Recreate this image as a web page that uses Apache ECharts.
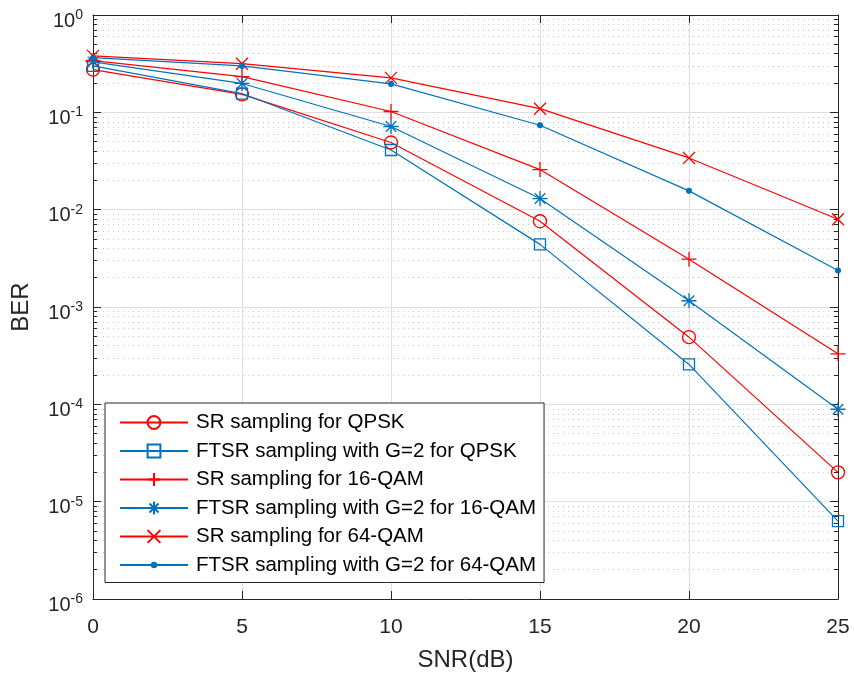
<!DOCTYPE html>
<html><head><meta charset="utf-8">
<script src="https://cdn.jsdelivr.net/npm/echarts@6/dist/echarts.min.js"></script>
<style>html,body{margin:0;padding:0;background:#fff}#c{width:854px;height:677px}</style>
</head><body><div id="c"></div>
<script>
// ---- data ----
const snr = [0, 5, 10, 15, 20, 25];
const srQPSK   = [0.275, 0.153, 0.049, 0.0076, 4.9e-4, 2.0e-5];
const ftsrQPSK = [0.30, 0.156, 0.041, 0.0044, 2.57e-4, 6.3e-6];
const sr16     = [0.34, 0.233, 0.102, 0.0258, 3.1e-3, 3.3e-4];
const ftsr16   = [0.33, 0.198, 0.0715, 0.013, 1.16e-3, 8.9e-5];
const sr64     = [0.38, 0.316, 0.226, 0.109, 0.034, 7.96e-3];
const ftsr64   = [0.364, 0.30, 0.196, 0.0737, 0.0156, 2.37e-3];
const seriesNames = [
  'SR sampling for QPSK',
  'FTSR sampling with G=2 for QPSK',
  'SR sampling for 16-QAM',
  'FTSR sampling with G=2 for 16-QAM',
  'SR sampling for 64-QAM',
  'FTSR sampling with G=2 for 64-QAM'
];
const xName = 'SNR(dB)';
const yName = 'BER';

// ---- styling ----
const RED = '#ff0000', BLUE = '#0072bd', AX = '#262626';
const FONT = '"Liberation Sans", Arial, Helvetica, sans-serif';
const PLUS = 'path://M0 -10 L0 10 M-10 0 L10 0';
const CROSS = 'path://M-10 -10 L10 10 M-10 10 L10 -10';
const STAR = 'path://M0 -10 L0 10 M-10 0 L10 0 M-7 -7 L7 7 M-7 7 L7 -7';
const DOT = 'path://M-7 -7 M7 7 M-2.4 0 A2.4 2.4 0 1 0 2.4 0 A2.4 2.4 0 1 0 -2.4 0 Z';

const seriesSpec = [
  {data: srQPSK,   color: RED,  symbol: 'circle', size: 13, fill: 'rgba(0,0,0,0)'},
  {data: ftsrQPSK, color: BLUE, symbol: 'rect',   size: 11, fill: 'rgba(0,0,0,0)'},
  {data: sr16,     color: RED,  symbol: PLUS,     size: 15, fill: 'rgba(0,0,0,0)'},
  {data: ftsr16,   color: BLUE, symbol: STAR,     size: 15, fill: 'rgba(0,0,0,0)'},
  {data: sr64,     color: RED,  symbol: CROSS,    size: 12, fill: 'rgba(0,0,0,0)'},
  {data: ftsr64,   color: BLUE, symbol: DOT,      size: 14, fill: BLUE}
];

const series = seriesSpec.map((s, i) => ({
  type: 'line',
  name: seriesNames[i],
  data: snr.map((x, j) => [x, s.data[j]]),
  xAxisIndex: 0, yAxisIndex: 0,
  symbol: s.symbol,
  symbolSize: s.size,
  showAllSymbol: true,
  clip: false,
  lineStyle: {color: s.color, width: 1.2},
  itemStyle: {color: s.fill, borderColor: s.color, borderWidth: 1.3},
  emphasis: {disabled: true},
  z: 10 + i
}));

const axisLine = {show: true, onZero: false, lineStyle: {color: AX, width: 1}};
const yLabelFmt = v => '{b|10}{s|' + Math.round(Math.log10(v)) + '}';

const option = {
  animation: false,
  backgroundColor: '#fff',
  grid: {left: 93, right: 16, top: 15, bottom: 74, containLabel: false},
  legend: {
    orient: 'vertical', left: 105, top: 403,
    padding: [9, 8, 7, 14],
    itemWidth: 68, itemHeight: 16, itemGap: 7.5,
    borderColor: AX, borderWidth: 1, borderRadius: 0, backgroundColor: '#fff',
    textStyle: {fontSize: 20.5, lineHeight: 20, color: '#000', fontFamily: FONT, padding: [0, 0, 0, 3]},
    data: seriesNames,
    z: 50
  },
  xAxis: [
    {
      type: 'value', min: 0, max: 25, interval: 5, position: 'bottom',
      axisLine: axisLine,
      axisTick: {show: true, inside: true, length: 8, lineStyle: {color: AX}},
      axisLabel: {fontSize: 21, color: AX, fontFamily: FONT, margin: 18},
      splitLine: {show: true, lineStyle: {color: '#dfdfdf', width: 1}},
      name: xName, nameLocation: 'middle', nameGap: 49,
      nameTextStyle: {fontSize: 24, color: AX, fontFamily: FONT}
    },
    {
      type: 'value', min: 0, max: 25, interval: 5, position: 'top',
      axisLine: axisLine,
      axisTick: {show: true, inside: true, length: 8, lineStyle: {color: AX}},
      axisLabel: {show: false},
      splitLine: {show: false}
    }
  ],
  yAxis: [
    {
      type: 'log', logBase: 10, min: 1e-6, max: 1, splitNumber: 6, position: 'left',
      axisLine: axisLine,
      axisTick: {show: true, inside: true, length: 8, lineStyle: {color: AX}},
      minorTick: {show: true, splitNumber: 9, length: 4, lineStyle: {color: AX}},
      axisLabel: {
        formatter: yLabelFmt, margin: 10, color: AX, fontFamily: FONT,
        rich: {
          b: {fontSize: 20, color: AX, fontFamily: FONT, padding: [12, 0, 0, 0]},
          s: {fontSize: 14, color: AX, fontFamily: FONT}
        }
      },
      splitLine: {show: true, lineStyle: {color: '#dfdfdf', width: 1}},
      minorSplitLine: {show: true, lineStyle: {color: '#c8c8c8', width: 1, type: [1, 4]}},
      name: yName, nameLocation: 'middle', nameGap: 60,
      nameTextStyle: {fontSize: 24, color: AX, fontFamily: FONT}
    },
    {
      type: 'log', logBase: 10, min: 1e-6, max: 1, splitNumber: 6, position: 'right',
      axisLine: axisLine,
      axisTick: {show: true, inside: true, length: 8, lineStyle: {color: AX}},
      minorTick: {show: true, splitNumber: 9, length: 4, lineStyle: {color: AX}},
      axisLabel: {show: false},
      splitLine: {show: false},
      minorSplitLine: {show: false}
    }
  ],
  series: series
};

const chart = echarts.init(document.getElementById('c'), null, {renderer: 'canvas'});
chart.setOption(option);
</script>
</body></html>
